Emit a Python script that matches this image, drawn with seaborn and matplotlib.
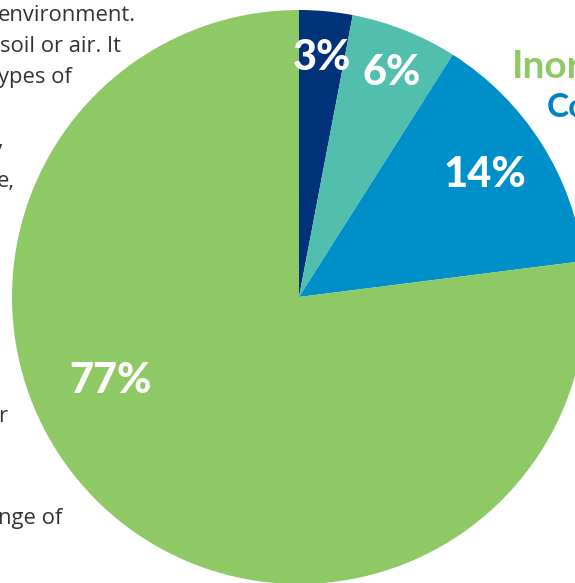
import matplotlib
matplotlib.use("Agg")
import matplotlib.pyplot as plt
import seaborn as sns

# ---- data ----
categories = ["Navy", "Teal", "Blue", "Green"]
shares = [3, 6, 14, 77]
slice_colors = ["#00337a", "#52bfae", "#0090c9", "#8fc966"]
pct_labels = ["3%", "6%", "14%", "77%"]

body_lines = ["environment.", "soil or air. It", "ypes of", ",", "e,", "r", "nge of"]
heading_lines = ["Inor", "Co"]

sns.set_theme(style="white")
plt.rcParams["font.family"] = ["Open Sans", "DejaVu Sans"]

W, H = 575, 583
fig = plt.figure(figsize=(W / 100, H / 100), dpi=100)
ax = fig.add_axes([0, 0, 1, 1])

cx, cy, R = 299, H - 297, 287
palette = sns.color_palette(slice_colors)
wedges, _ = ax.pie(shares, colors=palette, startangle=90, counterclock=False,
                   center=(cx, cy), radius=R, frame=True,
                   wedgeprops=dict(linewidth=0))
ax.set_xlim(0, W)
ax.set_ylim(0, H)
ax.set_aspect("equal")
ax.axis("off")

# percentage labels (pixel positions, from top-left)
label_pos = [(322, 58), (392, 73), (485, 175), (110, 381)]
for (x, y), t in zip(label_pos, pct_labels):
    ax.text(x, H - y, t, ha="center", va="center", color="white",
            fontsize=30, fontweight="black", family=["Lato", "DejaVu Sans"])

# body text fragments on the left (baseline positions)
body_pos = [(-2, 21), (0, 52), (-2, 83), (-3, 146), (-3, 187), (-2, 422), (-2, 524)]
for (x, y), t in zip(body_pos, body_lines):
    ax.text(x, H - y, t, ha="left", va="baseline", color="#333333",
            fontsize=15.8, family=["Open Sans", "DejaVu Sans"])

# heading fragments on the right
ax.text(512, H - 78, heading_lines[0], ha="left", va="baseline", color="#8fc966",
        fontsize=28, fontweight="bold", family=["Lato", "DejaVu Sans"])
ax.text(547, H - 117, heading_lines[1], ha="left", va="baseline", color="#0083c4",
        fontsize=24, fontweight="bold", family=["Lato", "DejaVu Sans"])

fig.savefig("out.png", dpi=100, facecolor="white")
